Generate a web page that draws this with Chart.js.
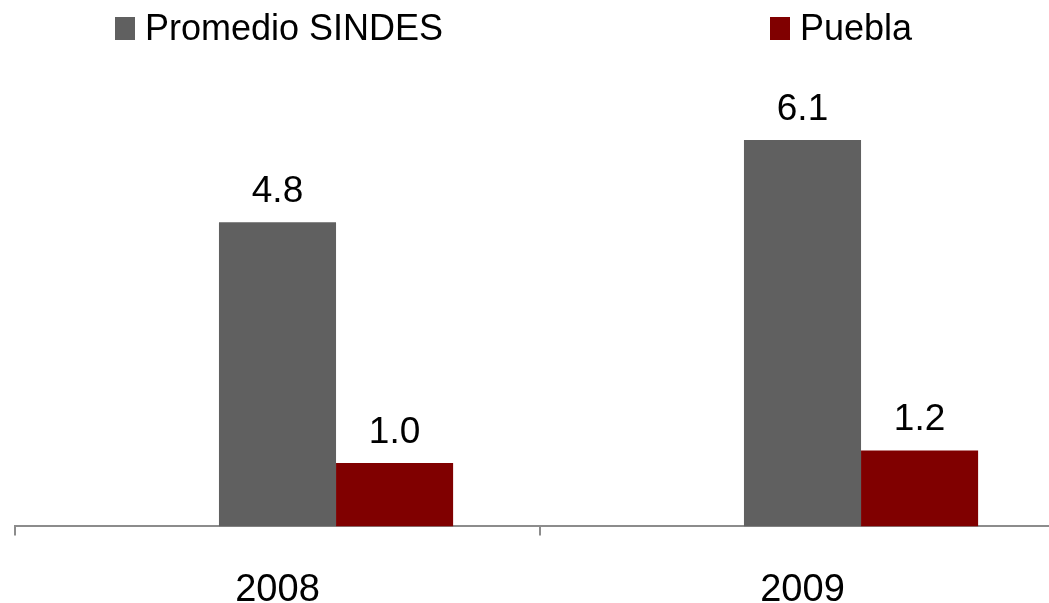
<!DOCTYPE html>
<html>
<head>
<meta charset="utf-8">
<script src="https://cdn.jsdelivr.net/npm/chart.js@4"></script>
<style>
  html, body { margin: 0; padding: 0; overflow: hidden; background: #fff; }
  #wrap { position: relative; width: 1080px; height: 603px; }
  #legend { position: absolute; top: 0; left: 0; width: 1049px; height: 60px;
    font-family: "Liberation Sans", Arial, sans-serif; font-size: 36px; line-height: 36px; color: #000; }
  .item { position: absolute; top: 10px; display: flex; align-items: center; }
  .box { width: 20px; height: 23px; margin-right: 10px; }
</style>
</head>
<body>
<div id="wrap">
  <canvas id="chart" width="1080" height="603"></canvas>
  <div id="legend"></div>
</div>
<script>
// Categories and series
const years = ['2008', '2009'];
const seriesNames = ['Promedio SINDES', 'Puebla'];
const sindes = [4.8, 6.1];
const puebla = [1.0, 1.2];
// empty series that holds the first slot in each group (as in the original chart)
const spacer = [null, null];
const colors = ['#606060', '#800000'];

const fontFamily = '"Liberation Sans", Arial, sans-serif';

// Legend built from the series names and colors
const legendLeft = [115, 770];
const legendEl = document.getElementById('legend');
seriesNames.forEach((name, i) => {
  const item = document.createElement('div');
  item.className = 'item';
  item.style.left = legendLeft[i] + 'px';
  item.innerHTML = '<span class="box" style="background:' + colors[i] + '"></span><span>' + name + '</span>';
  legendEl.appendChild(item);
});

// Draw the value above each bar
const valueLabels = {
  id: 'valueLabels',
  afterDatasetsDraw(chart) {
    const ctx = chart.ctx;
    ctx.save();
    ctx.font = '37px ' + fontFamily;
    ctx.fillStyle = '#000';
    ctx.textAlign = 'center';
    ctx.textBaseline = 'alphabetic';
    chart.data.datasets.forEach((ds, i) => {
      chart.getDatasetMeta(i).data.forEach((bar, j) => {
        const v = ds.data[j];
        if (v == null) return;
        ctx.fillText(v.toFixed(1), bar.x, bar.y - 20);
      });
    });
    ctx.restore();
  }
};

new Chart(document.getElementById('chart'), {
  type: 'bar',
  data: {
    labels: years,
    datasets: [
      { label: '', data: spacer, backgroundColor: 'rgba(0,0,0,0)' },
      { label: seriesNames[0], data: sindes, backgroundColor: colors[0] },
      { label: seriesNames[1], data: puebla, backgroundColor: colors[1] },
    ],
  },
  options: {
    responsive: false,
    animation: false,
    devicePixelRatio: 1,
    categoryPercentage: 0.669,
    barPercentage: 1,
    layout: { padding: { left: 15, right: 15, top: 83, bottom: -42 } },
    plugins: {
      legend: { display: false },
      tooltip: { enabled: false },
    },
    scales: {
      x: {
        grid: {
          offset: true,
          drawOnChartArea: false,
          drawTicks: true,
          tickLength: 9,
          color: '#8c8c8c',
          lineWidth: 2,
        },
        border: { color: '#8c8c8c', width: 2 },
        ticks: {
          color: '#000',
          padding: 32,
          font: { family: fontFamily, size: 38 },
        },
      },
      y: { display: false, min: 0, max: 7 },
    },
  },
  plugins: [valueLabels],
});
</script>
</body>
</html>
